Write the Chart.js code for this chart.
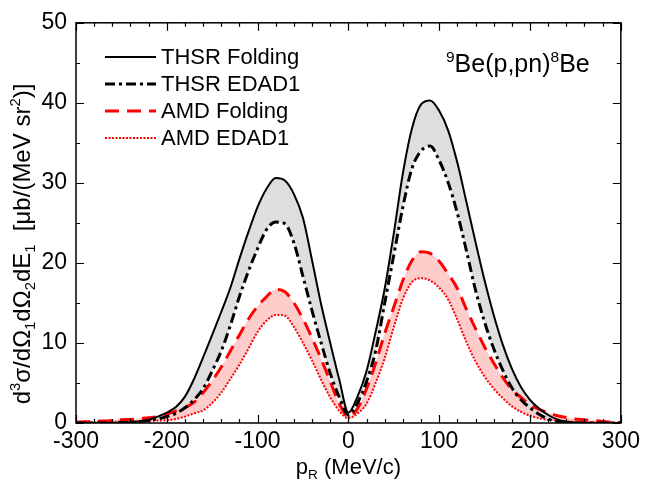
<!DOCTYPE html>
<html>
<head>
<meta charset="utf-8">
<script src="https://cdn.jsdelivr.net/npm/chart.js@4"></script>
<style>
  html, body { margin: 0; padding: 0; background: #fff; }
</style>
</head>
<body>
<canvas id="grafico" width="645" height="489"></canvas>
<script>
// p_R (MeV/c)
const pR = [-300, -290, -280, -270, -260, -250, -240, -230, -220, -210,
  -200, -190, -180, -170, -160, -150, -140, -130, -120, -110,
  -100, -90, -80, -70, -60, -50, -40, -30, -20, -10,
  0, 10, 20, 30, 40, 50, 60, 70, 80, 90,
  100, 110, 120, 130, 140, 150, 160, 170, 180, 190,
  200, 210, 220, 230, 240, 250, 260, 270, 280, 290, 300];

const thsrFolding = [0, 0, 0, 0, 0, 0.05, 0.1, 0.2, 0.4, 0.8,
  1.3, 2.0, 3.3, 5.5, 8.2, 11.0, 13.9, 16.9, 20.5, 23.9,
  27.0, 29.3, 30.6, 30.3, 28.6, 25.6, 20.3, 14.8, 10.0, 5.4,
  1.3, 3.3, 6.5, 11.4, 16.8, 23.7, 31.2, 36.8, 39.8, 40.3,
  39.0, 36.5, 32.5, 27.6, 22.6, 17.8, 13.5, 9.8, 6.8, 4.5,
  2.9, 1.8, 1.0, 0.45, 0.15, 0.05, 0, 0, 0, 0, 0];

const thsrEdad1 = [0, 0, 0, 0, 0, 0.05, 0.1, 0.2, 0.3, 0.5,
  0.8, 1.2, 1.9, 2.9, 4.3, 6.5, 9.0, 12.2, 15.8, 19.0,
  21.8, 24.2, 25.1, 24.9, 22.5, 18.3, 14.0, 10.0, 6.2, 3.2,
  1.0, 2.5, 5.2, 9.0, 15.0, 21.0, 27.0, 31.8, 34.0, 34.6,
  32.8, 30.0, 26.2, 21.5, 16.6, 12.6, 9.3, 6.6, 4.4, 2.9,
  1.9, 1.1, 0.5, 0.2, 0.1, 0, 0, 0, 0, 0, 0];

const amdFolding = [0.1, 0.15, 0.2, 0.25, 0.3, 0.4, 0.45, 0.55, 0.65, 0.8,
  1.1, 1.5, 1.9, 2.6, 3.8, 5.3, 7.0, 9.0, 11.0, 13.0,
  14.6, 15.8, 16.7, 16.4, 15.0, 13.0, 10.6, 8.0, 5.2, 2.4,
  0.8, 1.8, 4.3, 7.5, 11.2, 14.5, 17.8, 20.3, 21.4, 21.2,
  20.2, 18.6, 16.8, 14.2, 11.8, 9.5, 7.5, 5.7, 4.2, 3.2,
  2.3, 1.7, 1.3, 0.9, 0.7, 0.5, 0.4, 0.3, 0.2, 0.1, 0.05];

const amdEdad1 = [0.05, 0.05, 0.1, 0.1, 0.15, 0.2, 0.2, 0.25, 0.3, 0.3,
  0.35, 0.5, 0.8, 1.2, 1.6, 2.5, 3.8, 5.5, 7.3, 9.3,
  11.4, 12.8, 13.5, 13.4, 12.0, 10.0, 7.8, 5.4, 3.2, 1.5,
  0.6, 1.2, 2.4, 5.0, 8.1, 12.0, 15.5, 17.6, 18.1, 17.8,
  16.9, 15.4, 12.9, 10.1, 7.7, 5.8, 4.3, 3.1, 2.1, 1.4,
  0.9, 0.6, 0.4, 0.3, 0.2, 0.15, 0.1, 0.1, 0.05, 0.05, 0];

const nomes = ["THSR Folding", "THSR EDAD1", "AMD Folding", "AMD EDAD1"];

const xTicks = [-300, -200, -100, 0, 100, 200, 300];
const yTicks = [0, 10, 20, 30, 40, 50];

// textos com sub/sobrescrito: [texto, tipo]
const tituloY = [["d", ""], ["3", "sup"], ["σ/dΩ", ""], ["1", "sub"], ["dΩ", ""], ["2", "sub"],
  ["dE", ""], ["1", "sub"], ["  [μb/(MeV sr", ""], ["2", "sup"], [")]", ""]];
const tituloX = [["p", ""], ["R", "sub"], [" (MeV/c)", ""]];
const reacao = [["9", "sup"], ["Be(p,pn)", ""], ["8", "sup"], ["Be", ""]];

const fonte = "'Liberation Sans', Arial, sans-serif";

function pontos(arr) {
  return pR.map((x, i) => ({ x: x, y: arr[i] }));
}

function larguraRica(ctx, partes, tam) {
  let w = 0;
  partes.forEach(([t, tipo]) => {
    ctx.font = (tipo ? tam * 0.62 : tam) + "px " + fonte;
    w += ctx.measureText(t).width;
  });
  return w;
}

function textoRico(ctx, partes, x, y, tam) {
  let cx = x;
  ctx.textBaseline = "alphabetic";
  ctx.textAlign = "left";
  partes.forEach(([t, tipo]) => {
    const s = tipo ? tam * 0.62 : tam;
    ctx.font = s + "px " + fonte;
    let dy = 0;
    if (tipo === "sup") dy = -tam * 0.4;
    if (tipo === "sub") dy = tam * 0.22;
    ctx.fillText(t, cx, y + dy);
    cx += ctx.measureText(t).width;
  });
}

const molduraPlugin = {
  id: "moldura",
  afterDatasetsDraw(chart) {
    const ctx = chart.ctx;
    const a = chart.chartArea;
    const sx = chart.scales.x;
    const sy = chart.scales.y;
    ctx.save();
    ctx.strokeStyle = "#000";
    ctx.lineWidth = 1.5;
    ctx.setLineDash([]);
    ctx.strokeRect(a.left, a.top, a.right - a.left, a.bottom - a.top);
    ctx.lineWidth = 1.2;
    ctx.beginPath();
    for (let v = -300; v <= 300; v += 20) {
      const px = Math.round(sx.getPixelForValue(v)) + 0.5;
      const len = v % 100 === 0 ? 8 : 4;
      ctx.moveTo(px, a.bottom);
      ctx.lineTo(px, a.bottom - len);
      ctx.moveTo(px, a.top);
      ctx.lineTo(px, a.top + len);
    }
    for (let v = 0; v <= 50; v += 5) {
      const py = Math.round(sy.getPixelForValue(v)) + 0.5;
      const len = v % 10 === 0 ? 8 : 4;
      ctx.moveTo(a.left, py);
      ctx.lineTo(a.left + len, py);
      ctx.moveTo(a.right, py);
      ctx.lineTo(a.right - len, py);
    }
    ctx.stroke();

    // legenda
    const linhasY = [57, 84, 111, 138];
    chart.data.datasets.forEach((ds, i) => {
      ctx.strokeStyle = ds.borderColor;
      ctx.lineWidth = ds.borderWidth;
      ctx.setLineDash(ds.borderDash || []);
      ctx.beginPath();
      ctx.moveTo(105, linhasY[i]);
      ctx.lineTo(156, linhasY[i]);
      ctx.stroke();
      ctx.setLineDash([]);
      ctx.fillStyle = "#000";
      ctx.font = "22px " + fonte;
      ctx.textBaseline = "middle";
      ctx.textAlign = "left";
      ctx.fillText(ds.label, 161, linhasY[i] + 1);
    });

    // anotacao da reacao
    ctx.fillStyle = "#000";
    textoRico(ctx, reacao, 446, 72, 25);

    // titulo eixo x
    const tx = 22;
    const wx = larguraRica(ctx, tituloX, tx);
    textoRico(ctx, tituloX, (a.left + a.right) / 2 - wx / 2, 474, tx);

    // titulo eixo y
    const ty = 24;
    const wy = larguraRica(ctx, tituloY, ty);
    ctx.save();
    ctx.translate(30, 244);
    ctx.rotate(-Math.PI / 2);
    textoRico(ctx, tituloY, -wy / 2, 0, ty);
    ctx.restore();
    ctx.restore();
  }
};

const grafico = document.getElementById("grafico").getContext("2d");

const meuGrafico = new Chart(grafico, {
  type: "line",
  data: {
    datasets: [
      {
        label: nomes[0],
        data: pontos(thsrFolding),
        borderColor: "#000000",
        borderWidth: 2,
        backgroundColor: "#dedede",
        fill: "+1",
      },
      {
        label: nomes[1],
        data: pontos(thsrEdad1),
        borderColor: "#000000",
        borderWidth: 3,
        borderDash: [10, 4, 3, 4],
        fill: false,
      },
      {
        label: nomes[2],
        data: pontos(amdFolding),
        borderColor: "#ff0000",
        borderWidth: 3,
        borderDash: [14, 8],
        backgroundColor: "rgba(255, 0, 0, 0.2)",
        fill: "+1",
      },
      {
        label: nomes[3],
        data: pontos(amdEdad1),
        borderColor: "#ff0000",
        borderWidth: 2,
        borderDash: [2, 1.5],
        fill: false,
      },
    ],
  },
  options: {
    responsive: false,
    animation: false,
    devicePixelRatio: 1,
    layout: { padding: { top: 21, right: 21, left: 0, bottom: 0 } },
    elements: {
      point: { radius: 0 },
      line: { cubicInterpolationMode: "monotone" },
    },
    plugins: {
      legend: { display: false },
      tooltip: { enabled: false },
      filler: { drawTime: "beforeDatasetsDraw" },
    },
    scales: {
      x: {
        type: "linear",
        min: -300,
        max: 300,
        afterFit: (s) => { s.height = 66; },
        afterBuildTicks: (s) => { s.ticks = xTicks.map((v) => ({ value: v })); },
        grid: { display: false, drawTicks: false },
        border: { display: false },
        ticks: { color: "#000", font: { size: 23, family: fonte }, padding: 5, maxRotation: 0 },
      },
      y: {
        min: 0,
        max: 50,
        afterFit: (s) => { s.width = 76; },
        afterBuildTicks: (s) => { s.ticks = yTicks.map((v) => ({ value: v })); },
        grid: { display: false, drawTicks: false },
        border: { display: false },
        ticks: { color: "#000", font: { size: 23, family: fonte }, padding: 9 },
      },
    },
  },
  plugins: [molduraPlugin],
});
</script>
</body>
</html>
